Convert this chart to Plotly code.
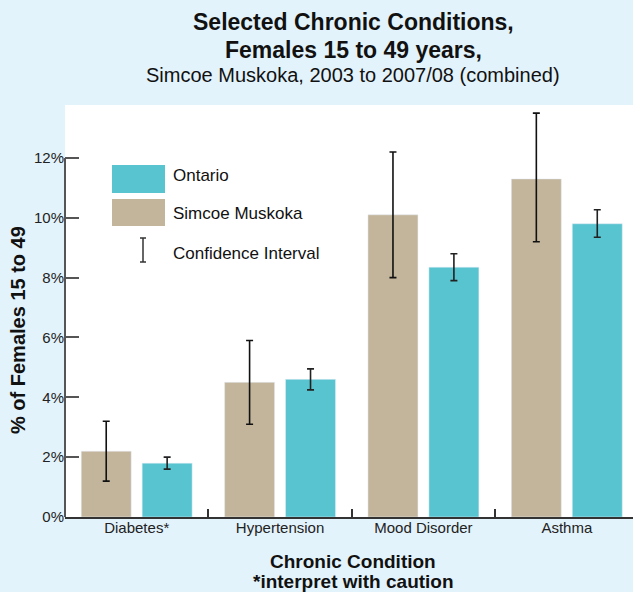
import plotly.graph_objects as go

categories = ["Diabetes*", "Hypertension", "Mood Disorder", "Asthma"]
simcoe_values = [2.2, 4.5, 10.1, 11.3]
simcoe_ci_low = [1.2, 3.1, 8.0, 9.2]
simcoe_ci_high = [3.2, 5.9, 12.2, 13.5]
ontario_values = [1.8, 4.6, 8.35, 9.8]
ontario_ci_low = [1.6, 4.25, 7.9, 9.35]
ontario_ci_high = [2.0, 4.95, 8.8, 10.27]
y_ticks = [0, 2, 4, 6, 8, 10, 12]
y_tick_labels = ["0%", "2%", "4%", "6%", "8%", "10%", "12%"]

W, H = 633, 592
ML, MR, MT, MB = 65, 0, 105, 75
PW = W - ML - MR
PH = H - MT - MB


def px_x(px):
    return (px - ML) / PW


def px_y(py):
    return (H - MB - py) / PH


TAN = "#c3b59b"
TEAL = "#57c4cf"
BG = "#e3f3fc"
FONT = "Liberation Sans, Arial, sans-serif"
TXT = "#111111"

fig = go.Figure()
fig.add_trace(go.Bar(
    name="Simcoe Muskoka", x=categories, y=simcoe_values, marker_color=TAN,
    error_y=dict(type="data", symmetric=False,
                 array=[h - v for h, v in zip(simcoe_ci_high, simcoe_values)],
                 arrayminus=[v - l for v, l in zip(simcoe_values, simcoe_ci_low)],
                 color="#111111", thickness=1.6, width=3.5),
))
fig.add_trace(go.Bar(
    name="Ontario", x=categories, y=ontario_values, marker_color=TEAL,
    error_y=dict(type="data", symmetric=False,
                 array=[h - v for h, v in zip(ontario_ci_high, ontario_values)],
                 arrayminus=[v - l for v, l in zip(ontario_values, ontario_ci_low)],
                 color="#222222", thickness=1.6, width=3.5),
))

shapes = [
    # y axis line from 0% to 12%
    dict(type="line", xref="paper", yref="y", x0=0, x1=0, y0=0, y1=12,
         line=dict(color="#555555", width=2)),
    # legend swatches
    dict(type="rect", xref="paper", yref="paper", x0=px_x(112), x1=px_x(165),
         y0=px_y(193), y1=px_y(165), fillcolor=TEAL, line=dict(width=0)),
    dict(type="rect", xref="paper", yref="paper", x0=px_x(112), x1=px_x(165),
         y0=px_y(226), y1=px_y(199), fillcolor=TAN, line=dict(width=0)),
    dict(type="line", xref="paper", yref="paper", x0=px_x(143), x1=px_x(143),
         y0=px_y(262), y1=px_y(238), line=dict(color="#333333", width=1.5)),
    dict(type="line", xref="paper", yref="paper", x0=px_x(140), x1=px_x(146),
         y0=px_y(238), y1=px_y(238), line=dict(color="#333333", width=1.5)),
    dict(type="line", xref="paper", yref="paper", x0=px_x(140), x1=px_x(146),
         y0=px_y(262), y1=px_y(262), line=dict(color="#333333", width=1.5)),
]

annotations = [
    dict(text="<b>Selected Chronic Conditions,</b>", x=px_x(353), y=px_y(22.5),
         font=dict(size=23, color=TXT, family=FONT)),
    dict(text="<b>Females 15 to 49 years,</b>", x=px_x(353), y=px_y(50),
         font=dict(size=23, color=TXT, family=FONT)),
    dict(text="Simcoe Muskoka, 2003 to 2007/08 (combined)", x=px_x(353), y=px_y(75),
         font=dict(size=20, color=TXT, family=FONT)),
    dict(text="<b>Chronic Condition</b>", x=px_x(353), y=px_y(561),
         font=dict(size=19, color=TXT, family=FONT)),
    dict(text="<b>*interpret with caution</b>", x=px_x(353), y=px_y(581),
         font=dict(size=19, color=TXT, family=FONT)),
    dict(text="<b>% of Females 15 to 49</b>", x=px_x(18), y=px_y(330), textangle=-90,
         font=dict(size=20, color=TXT, family=FONT)),
    dict(text="Ontario", x=px_x(171), y=px_y(175), xanchor="left",
         font=dict(size=17, color=TXT, family=FONT)),
    dict(text="Simcoe Muskoka", x=px_x(171), y=px_y(213), xanchor="left",
         font=dict(size=17, color=TXT, family=FONT)),
    dict(text="Confidence Interval", x=px_x(171), y=px_y(254), xanchor="left",
         font=dict(size=17, color=TXT, family=FONT)),
]
for a in annotations:
    a.setdefault("xanchor", "center")
    a.update(xref="paper", yref="paper", yanchor="middle", showarrow=False)

fig.update_layout(
    width=W, height=H,
    margin=dict(l=ML, r=MR, t=MT, b=MB, pad=0),
    paper_bgcolor=BG, plot_bgcolor="white",
    barmode="group", bargap=0.15, bargroupgap=0.18,
    showlegend=False,
    font=dict(family=FONT, color=TXT),
    shapes=shapes, annotations=annotations,
    xaxis=dict(
        type="category", range=[-0.5, 3.4617], fixedrange=True,
        showline=True, linecolor="#333333", linewidth=2,
        ticks="inside", tickson="boundaries", ticklen=8, tickcolor="#333333", tickwidth=1.5,
        tickfont=dict(size=15, color="#222222", family=FONT),
        ticklabelstandoff=-4,
        showgrid=False, zeroline=False,
    ),
    yaxis=dict(
        range=[0, 13.77], tickvals=y_ticks, ticktext=y_tick_labels, fixedrange=True,
        showline=False, ticks="inside", ticklen=14, tickwidth=2, tickcolor="#555555",
        tickfont=dict(size=15, color="#222222", family=FONT),
        showgrid=False, zeroline=False,
    ),
)

fig.write_html(
    "out.html",
    config={"displayModeBar": False},
    post_script="document.body.style.margin='0';document.body.style.background='%s';" % BG,
)
